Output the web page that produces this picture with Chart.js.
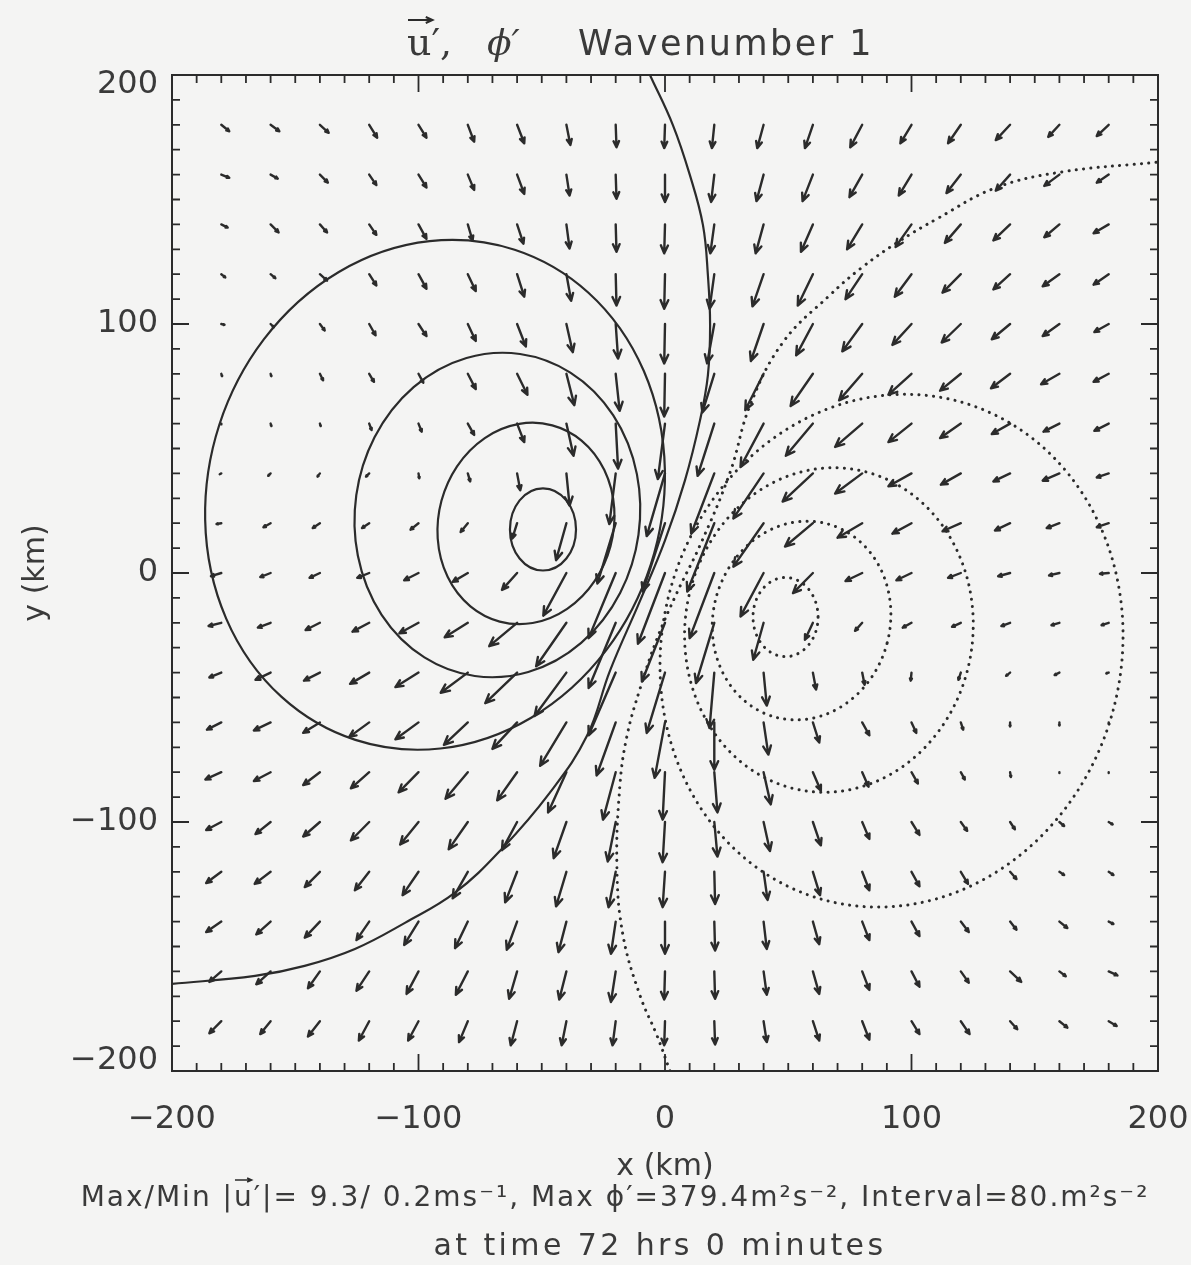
<!DOCTYPE html>
<html>
<head>
<meta charset="utf-8">
<script src="https://cdn.jsdelivr.net/npm/chart.js@4.4.1/dist/chart.umd.min.js"></script>
<style>
  html, body { margin: 0; padding: 0; background: #f4f4f3; }
  #wrap { position: relative; width: 1191px; height: 1265px; }
</style>
</head>
<body>
<div id="wrap"><canvas id="flowChart" width="1191" height="1265"></canvas></div>
<script>
// wind grid (km)
var gridX = [-180, -160, -140, -120, -100, -80, -60, -40, -20, 0, 20, 40, 60, 80, 100, 120, 140, 160, 180];
var gridY = [180, 160, 140, 120, 100, 80, 60, 40, 20, 0, -20, -40, -60, -80, -100, -120, -140, -160, -180];

// u' (m/s), one row per gridY value, west to east
var uWind = [
  [1.0, 1.1, 1.1, 1.0, 1.0, 0.8, 0.9, 0.5, 0.1, -0.1, -0.3, -0.8, -1.0, -1.5, -1.4, -1.6, -1.8, -1.4, -1.5],
  [1.0, 0.9, 1.0, 0.9, 1.0, 0.8, 0.9, 0.4, 0.1, 0.0, -0.4, -0.9, -1.3, -1.6, -1.6, -1.8, -1.8, -1.9, -1.5],
  [0.8, 1.0, 0.9, 0.9, 1.0, 0.6, 0.8, 0.4, 0.1, -0.1, -0.5, -1.0, -1.5, -1.9, -2.0, -2.0, -2.1, -1.9, -1.9],
  [0.5, 0.6, 0.9, 0.9, 1.0, 1.0, 0.9, 0.6, 0.1, -0.1, -0.6, -1.4, -1.9, -2.1, -2.1, -2.3, -2.1, -2.1, -1.9],
  [0.4, 0.4, 0.6, 0.8, 1.0, 1.0, 1.1, 0.8, 0.3, -0.1, -0.9, -1.6, -2.1, -2.5, -2.4, -2.4, -2.3, -2.1, -1.8],
  [0.1, 0.1, 0.4, 0.6, 0.6, 1.0, 1.3, 1.0, 0.5, -0.1, -1.5, -2.3, -2.8, -2.9, -2.9, -2.6, -2.4, -2.3, -1.9],
  [0.0, 0.1, 0.1, 0.3, 0.4, 0.8, 0.9, 0.9, 0.3, -0.9, -2.1, -2.9, -3.4, -3.4, -2.9, -2.6, -2.3, -2.0, -1.8],
  [-0.2, -0.3, -0.3, -0.4, 0.1, 0.3, 0.4, 0.4, -0.8, -2.3, -2.9, -3.8, -3.8, -3.4, -2.9, -2.5, -2.1, -2.1, -1.5],
  [-0.6, -0.9, -0.9, -0.9, -1.0, -0.9, -0.6, -1.3, -2.3, -2.8, -3.4, -3.8, -3.5, -3.1, -2.4, -2.3, -1.9, -1.6, -1.5],
  [-1.3, -1.3, -1.3, -1.5, -1.8, -1.9, -1.9, -2.9, -3.4, -3.4, -3.1, -2.9, -2.5, -2.1, -1.9, -1.6, -1.5, -1.3, -1.1],
  [-1.6, -1.6, -1.8, -2.1, -2.4, -2.9, -3.5, -3.8, -3.4, -2.9, -2.3, -1.3, -1.0, -0.9, -1.1, -1.1, -1.1, -1.0, -0.9],
  [-1.5, -1.9, -2.0, -2.4, -2.9, -3.4, -4.0, -4.0, -3.4, -2.3, -0.6, 0.4, 0.4, 0.3, -0.1, -0.3, -0.5, -0.6, -0.3],
  [-1.8, -2.1, -2.1, -2.5, -2.9, -3.0, -3.1, -3.3, -2.4, -1.3, 0.0, 0.6, 0.8, 0.9, 0.6, 0.3, 0.0, 0.0, 0.0],
  [-2.0, -2.1, -2.1, -2.3, -2.5, -2.8, -2.5, -2.3, -1.6, -0.3, 0.4, 0.9, 1.0, 0.8, 0.8, 0.5, 0.1, 0.0, 0.0],
  [-1.9, -1.9, -2.1, -2.3, -2.3, -2.4, -1.9, -1.6, -1.0, -0.3, 0.4, 0.8, 1.0, 0.9, 1.0, 0.8, 0.6, 0.6, 0.5],
  [-1.9, -2.0, -1.9, -1.8, -2.0, -1.9, -1.5, -1.3, -0.9, -0.3, 0.1, 0.5, 0.9, 0.9, 1.0, 0.9, 0.8, 0.6, 0.6],
  [-1.9, -1.8, -1.9, -1.6, -1.8, -1.6, -1.3, -1.0, -0.6, 0.0, 0.1, 0.4, 0.8, 0.9, 1.0, 1.0, 0.8, 1.0, 0.6],
  [-1.5, -1.8, -1.5, -1.6, -1.5, -1.5, -1.0, -0.9, -0.6, -0.1, 0.1, 0.4, 0.8, 0.9, 1.0, 1.0, 1.4, 0.8, 1.1],
  [-1.5, -1.3, -1.5, -1.3, -1.3, -1.1, -0.8, -0.6, -0.4, -0.1, 0.1, 0.4, 0.8, 0.9, 1.0, 1.1, 0.9, 1.0, 1.0]
];

// v' (m/s), same layout
var vWind = [
  [-0.8, -0.8, -1.0, -1.6, -1.6, -2.1, -2.3, -2.5, -2.8, -2.9, -2.9, -2.9, -2.9, -2.8, -2.3, -2.3, -1.9, -1.5, -1.4],
  [-0.4, -0.5, -1.0, -1.3, -1.6, -1.9, -2.4, -2.6, -3.0, -3.4, -3.4, -3.3, -3.3, -2.8, -2.6, -2.3, -2.0, -1.4, -1.0],
  [-0.4, -1.0, -1.0, -1.3, -1.8, -2.0, -2.4, -3.0, -3.4, -3.6, -3.6, -3.6, -3.4, -3.1, -2.8, -2.3, -2.0, -1.6, -1.1],
  [-0.4, -0.5, -0.8, -1.4, -1.8, -2.1, -2.8, -3.3, -3.9, -4.3, -4.3, -4.0, -3.9, -3.1, -2.8, -2.3, -1.9, -1.5, -1.3],
  [-0.1, -0.4, -0.8, -1.4, -1.5, -2.1, -2.8, -3.5, -4.3, -4.9, -4.9, -4.6, -3.9, -3.4, -2.6, -2.3, -1.9, -1.5, -1.0],
  [-0.3, -0.3, -0.8, -1.0, -1.1, -1.9, -2.6, -3.9, -4.6, -5.3, -4.8, -4.5, -4.0, -3.3, -2.6, -2.1, -1.8, -1.3, -1.0],
  [-0.1, -0.3, -0.3, -0.8, -1.0, -1.4, -2.3, -4.0, -5.6, -6.9, -6.5, -5.4, -4.0, -2.9, -2.3, -1.8, -1.3, -1.0, -0.9],
  [-0.1, -0.3, -0.4, -0.4, -0.6, -1.0, -2.1, -4.0, -6.3, -7.8, -7.5, -5.6, -3.5, -2.5, -1.6, -1.4, -1.0, -0.9, -0.5],
  [-0.1, -0.5, -0.6, -0.6, -0.8, -1.1, -1.9, -4.6, -7.5, -8.5, -8.5, -5.4, -2.9, -1.8, -1.3, -1.0, -0.9, -0.6, -0.5],
  [-0.4, -0.5, -0.6, -0.6, -0.9, -1.1, -2.1, -5.3, -8.1, -8.8, -8.1, -5.4, -2.5, -1.0, -0.9, -0.6, -0.4, -0.3, -0.1],
  [-0.4, -0.6, -0.9, -1.1, -1.3, -1.8, -2.9, -5.4, -8.1, -7.3, -7.5, -4.6, -2.1, -1.0, -0.6, -0.5, -0.4, -0.3, -0.3],
  [-0.6, -0.9, -1.0, -1.4, -1.8, -2.5, -3.8, -5.4, -7.8, -7.5, -6.9, -4.1, -2.1, -1.5, -1.0, -0.9, -0.4, -0.3, -0.1],
  [-0.9, -1.0, -1.3, -1.8, -2.1, -2.8, -3.3, -5.4, -6.6, -6.9, -5.9, -4.0, -2.5, -1.6, -1.3, -0.9, -0.5, -0.4, -0.1],
  [-0.9, -1.1, -1.6, -2.0, -2.5, -3.3, -3.5, -5.0, -5.9, -5.9, -5.0, -4.0, -2.3, -1.8, -1.4, -0.9, -0.6, -0.1, -0.1],
  [-1.0, -1.5, -1.8, -2.3, -2.8, -3.4, -3.5, -4.5, -4.9, -5.0, -4.3, -3.6, -2.9, -2.1, -1.6, -1.1, -0.9, -0.5, -0.3],
  [-1.4, -1.5, -1.9, -2.3, -2.9, -3.3, -3.8, -4.3, -4.4, -4.4, -4.0, -3.5, -2.9, -2.3, -1.8, -1.5, -0.9, -0.4, -0.4],
  [-1.3, -1.6, -2.0, -2.3, -2.9, -3.3, -3.5, -3.8, -4.0, -4.0, -3.6, -3.4, -2.8, -2.3, -1.8, -1.3, -1.0, -0.8, -0.3],
  [-1.3, -1.6, -2.1, -2.4, -2.8, -2.9, -3.4, -3.5, -3.8, -3.5, -3.4, -2.9, -2.8, -2.3, -1.9, -1.4, -1.3, -0.6, -0.5],
  [-1.5, -1.6, -1.9, -2.4, -2.4, -2.6, -3.0, -3.0, -3.0, -3.0, -2.9, -2.6, -2.4, -2.3, -1.6, -1.6, -1.0, -0.8, -0.6]
];

// closed phi' contours: centre (km), half widths (km), tilt (deg)
var highRings = [
  { x: -49.5, y: 17.5, rx: 13.4, ry: 16.5, tilt: 0 },
  { x: -56.4, y: 19.9, rx: 35.5, ry: 40.8, tilt: 15 },
  { x: -68.0, y: 23.3, rx: 57.8, ry: 65.3, tilt: 8 },
  { x: -93.3, y: 31.4, rx: 92.0, ry: 103.5, tilt: 18 }
];
var lowRings = [
  { x: 48.9, y: -17.7, rx: 13.2, ry: 15.9, tilt: 0 },
  { x: 55.4, y: -19.1, rx: 35.9, ry: 40.2, tilt: 15 },
  { x: 66.5, y: -22.9, rx: 58.4, ry: 65.3, tilt: 8 },
  { x: 91.9, y: -31.2, rx: 93.1, ry: 103.7, tilt: 15 }
];

// outermost contours, open at the box edge
var highArc = [[-6.1, 200], [3.2, 179.9], [10.1, 159.8], [15.4, 139.7], [17.4, 119.6], [18.3, 99.5],
  [17.4, 79.4], [14.2, 61.3], [8.1, 37.2], [0, 13.1], [-10.1, -11.1], [-22.3, -39.2], [-31.6, -65.3],
  [-46.7, -88.2], [-66.1, -110.7], [-85.2, -128.4], [-105.5, -140.5], [-125.8, -151], [-146.2, -157.8],
  [-166.3, -161.8], [-200, -165]];
var lowArc = [[2, -200], [-3.2, -185.9], [-10.1, -169.8], [-17, -145.7], [-19.5, -118.8], [-18.3, -85.4],
  [-15.4, -65.3], [-10.1, -46.4], [-3.2, -26.3], [4.9, -7.8], [14.2, 11.1], [26.4, 40.4], [34.5, 67.3],
  [47.9, 92.7], [66.9, 111.6], [79.5, 122.4], [94.5, 132.9], [110.8, 142.5], [133.9, 154.6],
  [160.6, 161], [200, 165]];

var tickLabels = [-200, -100, 0, 100, 200];
var kmPerMs = 3.23;   // arrow length: km of map per m/s

var ink = '#2b2b2b';
var textInk = '#3a3a3a';
var sans = '"DejaVu Sans"';

function toPoints(arr) {
  return arr.map(function (p) { return { x: p[0], y: p[1] }; });
}

function arrow(ctx, x0, y0, x1, y1) {
  var dx = x1 - x0, dy = y1 - y0;
  var len = Math.sqrt(dx * dx + dy * dy);
  ctx.beginPath();
  ctx.moveTo(x0, y0);
  ctx.lineTo(x1, y1);
  if (len > 2) {
    var head = Math.min(0.3 * len, 9.5);
    var ang = Math.atan2(dy, dx);
    var spread = 0.42;
    ctx.moveTo(x1 - head * Math.cos(ang - spread), y1 - head * Math.sin(ang - spread));
    ctx.lineTo(x1, y1);
    ctx.lineTo(x1 - head * Math.cos(ang + spread), y1 - head * Math.sin(ang + spread));
  }
  ctx.stroke();
}

function spaced(ctx, px) {
  if ('letterSpacing' in ctx) ctx.letterSpacing = px + 'px';
}

var ringPlugin = {
  id: 'rings',
  beforeDatasetsDraw: function (chart) {
    var ctx = chart.ctx, a = chart.chartArea;
    var xs = chart.scales.x, ys = chart.scales.y;
    var kx = Math.abs(xs.getPixelForValue(1) - xs.getPixelForValue(0));
    var ky = Math.abs(ys.getPixelForValue(1) - ys.getPixelForValue(0));
    ctx.save();
    ctx.beginPath();
    ctx.rect(a.left, a.top, a.right - a.left, a.bottom - a.top);
    ctx.clip();
    ctx.strokeStyle = ink;
    function ring(r, dotted) {
      ctx.setLineDash(dotted ? [0.1, 7.2] : []);
      ctx.lineCap = dotted ? 'round' : 'butt';
      ctx.lineWidth = dotted ? 3 : 2.2;
      ctx.beginPath();
      ctx.ellipse(xs.getPixelForValue(r.x), ys.getPixelForValue(r.y), r.rx * kx, r.ry * ky,
        r.tilt * Math.PI / 180, 0, Math.PI * 2);
      ctx.stroke();
    }
    highRings.forEach(function (r) { ring(r, false); });
    lowRings.forEach(function (r) { ring(r, true); });
    ctx.restore();
  }
};

var windPlugin = {
  id: 'wind',
  afterDatasetsDraw: function (chart) {
    var ctx = chart.ctx;
    var xs = chart.scales.x, ys = chart.scales.y;
    ctx.save();
    ctx.strokeStyle = ink;
    ctx.lineWidth = 2.4;
    ctx.lineCap = 'round';
    ctx.lineJoin = 'round';
    for (var j = 0; j < gridY.length; j++) {
      for (var i = 0; i < gridX.length; i++) {
        var x = gridX[i], y = gridY[j];
        var x1 = x + uWind[j][i] * kmPerMs, y1 = y + vWind[j][i] * kmPerMs;
        arrow(ctx, xs.getPixelForValue(x), ys.getPixelForValue(y),
          xs.getPixelForValue(x1), ys.getPixelForValue(y1));
      }
    }
    ctx.restore();
  }
};

function minusText(v) {
  return v < 0 ? '\u2212' + Math.abs(v) : String(v);
}

var framePlugin = {
  id: 'frame',
  afterDraw: function (chart) {
    var ctx = chart.ctx, a = chart.chartArea;
    var xs = chart.scales.x, ys = chart.scales.y;
    ctx.save();
    ctx.strokeStyle = ink;
    ctx.lineWidth = 2;
    ctx.strokeRect(a.left, a.top, a.right - a.left, a.bottom - a.top);

    // inward ticks every 10 km, longer every 100 km
    ctx.lineWidth = 1.8;
    ctx.beginPath();
    for (var v = xs.min + 10; v < xs.max; v += 10) {
      var len = (v % 100 === 0) ? 17 : 8;
      var px = xs.getPixelForValue(v);
      ctx.moveTo(px, a.bottom); ctx.lineTo(px, a.bottom - len);
      ctx.moveTo(px, a.top); ctx.lineTo(px, a.top + len);
    }
    for (var w = ys.min + 10; w < ys.max; w += 10) {
      var len2 = (w % 100 === 0) ? 17 : 8;
      var py = ys.getPixelForValue(w);
      ctx.moveTo(a.left, py); ctx.lineTo(a.left + len2, py);
      ctx.moveTo(a.right, py); ctx.lineTo(a.right - len2, py);
    }
    ctx.stroke();

    // tick labels
    ctx.fillStyle = textInk;
    ctx.font = '32px ' + sans;
    ctx.textAlign = 'center';
    ctx.textBaseline = 'alphabetic';
    tickLabels.forEach(function (t) {
      ctx.fillText(minusText(t), xs.getPixelForValue(t), a.bottom + 57);
    });
    ctx.textAlign = 'right';
    ctx.textBaseline = 'middle';
    tickLabels.forEach(function (t) {
      var py = Math.min(Math.max(ys.getPixelForValue(t), a.top + 10), a.bottom - 10);
      ctx.fillText(minusText(t), a.left - 14, py);
    });

    // axis titles
    ctx.textAlign = 'center';
    ctx.textBaseline = 'alphabetic';
    ctx.font = '30px ' + sans;
    ctx.fillText('x (km)', (a.left + a.right) / 2, 1175);
    ctx.save();
    ctx.translate(44, (a.top + a.bottom) / 2);
    ctx.rotate(-Math.PI / 2);
    ctx.fillText('y (km)', 0, 0);
    ctx.restore();

    // title
    ctx.textAlign = 'left';
    ctx.font = '38px "DejaVu Serif"';
    ctx.fillText('u', 407, 55);
    var uw = ctx.measureText('u').width;
    ctx.lineWidth = 2;
    arrow(ctx, 408, 20, 408 + uw, 20);
    ctx.fillText('\u2032,', 407 + uw, 55);
    ctx.font = 'italic 36px "DejaVu Serif"';
    ctx.fillText('\u03d5\u2032', 487, 55);
    ctx.font = '35px ' + sans;
    spaced(ctx, 2.5);
    ctx.fillText('Wavenumber 1', 578, 55);

    // summary lines
    ctx.font = '28px ' + sans;
    spaced(ctx, 2);
    var p1 = 'Max/Min |', p2 = 'u', p3 = '\u2032|= 9.3/ 0.2ms\u207b\u00b9, Max \u03d5\u2032=379.4m\u00b2s\u207b\u00b2, Interval=80.m\u00b2s\u207b\u00b2';
    var w1 = ctx.measureText(p1).width, w2 = ctx.measureText(p2).width, w3 = ctx.measureText(p3).width;
    var sx = 615 - (w1 + w2 + w3) / 2, base = 1206;
    ctx.fillText(p1, sx, base);
    ctx.fillText(p2, sx + w1, base);
    ctx.lineWidth = 1.5;
    arrow(ctx, sx + w1 + 1, base - 26, sx + w1 + w2 - 2, base - 26);
    ctx.fillText(p3, sx + w1 + w2, base);
    ctx.font = '30px ' + sans;
    spaced(ctx, 3.4);
    ctx.textAlign = 'center';
    ctx.fillText('at time 72 hrs 0 minutes', 660, 1255);
    ctx.restore();
  }
};

var lineStyle = { showLine: true, pointRadius: 0, tension: 0.4, borderColor: ink, fill: false };

var chart = new Chart(document.getElementById('flowChart').getContext('2d'), {
  type: 'scatter',
  data: {
    datasets: [
      Object.assign({ label: 'phi+ outer', data: toPoints(highArc), borderWidth: 2.2 }, lineStyle),
      Object.assign({ label: 'phi- outer', data: toPoints(lowArc), borderWidth: 3,
        borderDash: [0.1, 7.2], borderCapStyle: 'round' }, lineStyle)
    ]
  },
  options: {
    responsive: false,
    animation: false,
    devicePixelRatio: 1,
    layout: { padding: { left: 172, top: 75, right: 33, bottom: 194 } },
    plugins: { legend: { display: false }, tooltip: { enabled: false } },
    scales: {
      x: { type: 'linear', min: -200, max: 200, display: false },
      y: { type: 'linear', min: -200, max: 200, display: false }
    }
  },
  plugins: [ringPlugin, windPlugin, framePlugin]
});
</script>
</body>
</html>
